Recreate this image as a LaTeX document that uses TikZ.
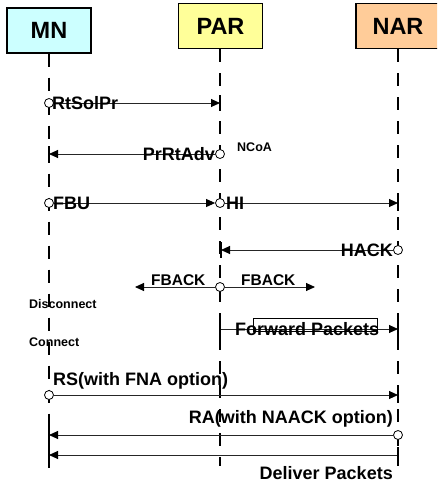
\documentclass[tikz,border=0pt]{standalone}
\usepackage{fontspec}
\setmainfont{Liberation Sans}
\usetikzlibrary{arrows.meta}
\definecolor{mncol}{HTML}{CCFFFF}
\definecolor{parcol}{HTML}{FFFF99}
\definecolor{narcol}{HTML}{FFCC99}
\begin{document}
\begin{tikzpicture}[x=1pt,y=-1pt,
 hdr/.style={draw=black, line width=1.3pt, minimum width=84pt, minimum height=45pt, inner sep=0pt, font=\fontsize{23.5}{23.5}\selectfont\bfseries},
 life/.style={line width=2.5pt, dash pattern=on 13pt off 11pt},
 msg/.style={line width=0.9pt, draw=black!85, -{Triangle[length=9pt,width=8pt,fill=black,color=black]}},
 dot/.style={circle, draw=black, fill=white, line width=0.8pt, minimum size=9pt, inner sep=0pt},
 lbl/.style={font=\fontsize{18}{18}\selectfont\bfseries, inner sep=0pt},
 sml/.style={font=\fontsize{15.5}{15.5}\selectfont\bfseries, inner sep=0pt},
 tinylbl/.style={font=\fontsize{12.5}{12.5}\selectfont\bfseries, inner sep=0pt},
 tipbar/.style={line width=2.5pt},
 pktbox/.style={draw=black, line width=0.6pt}
]
\useasboundingbox (0,0) rectangle (437,482);
\begin{scope}
\clip (0,0) rectangle (437,482);
% headers
\node[hdr, fill=mncol] (mn) at (49,30.5) {MN};
\node[hdr, fill=parcol] (par) at (220.5,26) {PAR};
\node[hdr, fill=narcol] (nar) at (398,26) {NAR};
\end{scope}
% lifelines
\coordinate (mnend) at (49,468);
\coordinate (parend) at (220,466);
\coordinate (narend) at (398,466);
\draw[life] (mn.south) -- (mnend);
\draw[life] (par.south -| parend) -- (parend);
\draw[life] (nar.south) -- (narend);

% RtSolPr
\node[dot] (c1) at (49,103) {};
\coordinate (t1) at (220,103);
\draw[msg] (c1) -- (t1);
\node[lbl, anchor=base west] (l1) at (52,109) {RtSolPr};

% PrRtAdv
\node[dot] (c2) at (220,154) {};
\coordinate (t2) at (49,154);
\draw[msg] (c2) -- (t2);
\node[lbl, anchor=base east] (l2) at (215,160) {PrRtAdv};
\node[tinylbl, anchor=base west] (ncoa) at (237,151) {NCoA};

% FBU / HI
\node[dot] (c3) at (49,203) {};
\node[dot] (c4) at (220,203) {};
\coordinate (t4) at (398,203);
\draw[msg] (c3) -- (c4);
\draw[msg] (c4) -- (t4);
\node[lbl, anchor=base west] (l3) at (53,209) {FBU};
\node[lbl, anchor=base west] (l4) at (226,209) {HI};

% HACK
\node[dot] (c5) at (398,250) {};
\coordinate (t5) at (221,250);
\draw[msg] (c5) -- (t5);
\node[lbl, anchor=base east] (l5) at (393,256) {HACK};

% FBACK
\node[dot] (c6) at (220,287) {};
\coordinate (fl) at (135,287);
\coordinate (fr) at (315,287);
\draw[msg] (c6) -- (fl);
\draw[msg] (c6) -- (fr);
\node[sml, anchor=base west] (l6a) at (151,285) {FBACK};
\node[sml, anchor=base west] (l6b) at (241,285) {FBACK};

% Disconnect / Connect
\node[tinylbl, anchor=base west] (disc) at (29,308) {Disconnect};
\node[tinylbl, anchor=base west] (conn) at (29,346) {Connect};

% Forward Packets
\coordinate (fs) at (220,329);
\coordinate (fe) at (398,329);
\draw[msg] (fs) -- (fe);
\draw[pktbox] (253,318) rectangle (377,331);
\node[lbl, anchor=base west] (l7) at (235,335) {Forward Packets};

% RS
\node[dot] (c7) at (49,395) {};
\coordinate (t7) at (398,395);
\draw[msg] (c7) -- (t7);
\node[lbl, anchor=base west] (l8) at (53,385) {RS(with FNA option)};

% RA
\node[dot] (c8) at (398,435) {};
\coordinate (t8) at (49,435);
\draw[msg] (c8) -- (t8);
\node[lbl, anchor=base east] (l9) at (393,423) {RA(with NAACK option)};

% Deliver Packets
\coordinate (ds) at (398,455);
\coordinate (de) at (49,455);
\draw[msg] (ds) -- (de);
\node[lbl, anchor=base east] (l10) at (393,479) {Deliver Packets};

% bars at arrow tips
\foreach \p in {t1,t2,t4,t5,fs,fe,t7,t8,ds,de}
  \draw[tipbar] (\p) ++(0,-8) -- ++(0,16);
\end{tikzpicture}
\end{document}
